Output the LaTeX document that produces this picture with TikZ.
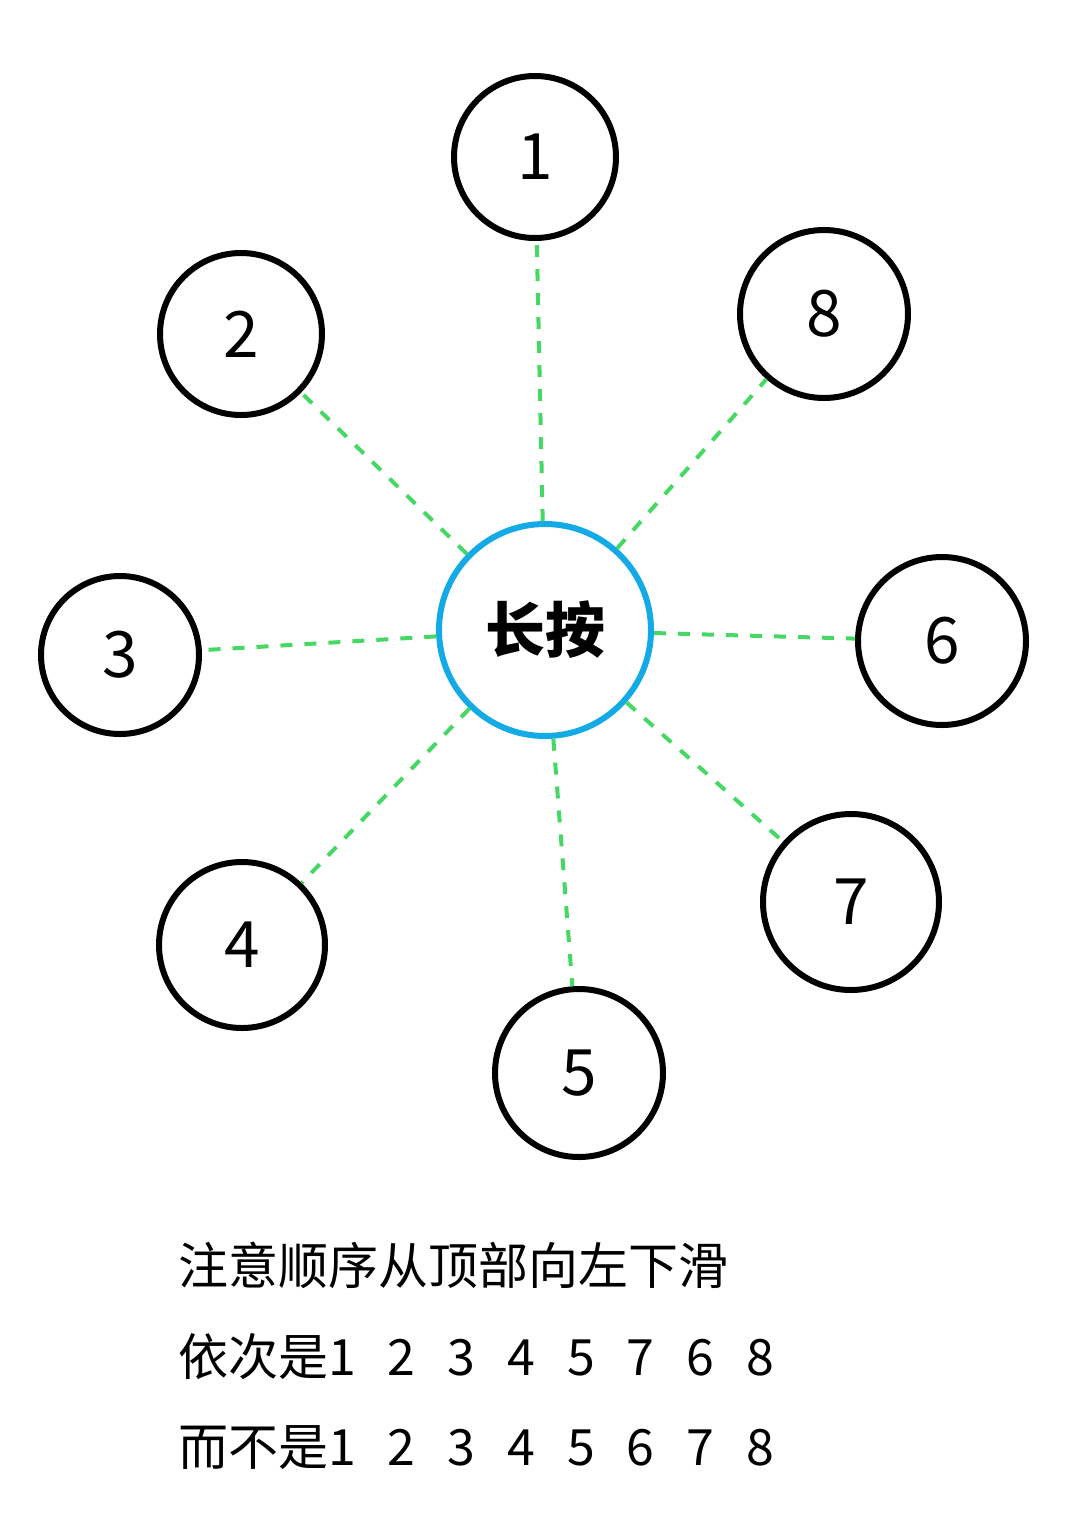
\documentclass[tikz,border=0pt]{standalone}
\usepackage{fontspec}
\newfontfamily\cjk{Noto Sans CJK SC}
\begin{document}
\begin{tikzpicture}[x=1pt,y=-1pt,
  num/.style={circle,draw=black,line width=6pt,inner sep=0pt,font=\cjk\fontsize{64}{70}\selectfont},
  link/.style={draw={rgb,255:red,70;green,215;blue,100},line width=4pt,dash pattern=on 12pt off 12pt},
  txt/.style={anchor=west,inner sep=0pt,font=\cjk\fontsize{50}{56}\selectfont}]
\useasboundingbox (0,0) rectangle (1080,1532);
\node[num,minimum size=162pt] (n1) at (535,157) {1};
\node[num,minimum size=168pt] (n8) at (824,314) {8};
\node[num,minimum size=162pt] (n2) at (241,334) {2};
\node[num,minimum size=158pt] (n3) at (120,655) {3};
\node[num,minimum size=168pt] (n6) at (942,641) {6};
\node[num,minimum size=176pt] (n7) at (851,902) {7};
\node[num,minimum size=166pt] (n4) at (242,945) {4};
\node[num,minimum size=168pt] (n5) at (579,1073) {5};
\node[circle,draw={rgb,255:red,20;green,170;blue,230},line width=6pt,minimum size=212pt,inner sep=0pt,font=\cjk\bfseries\fontsize{60}{66}\selectfont] (c) at (545,630) {长按};
\foreach \n in {n1,n2,n3,n4,n5,n6,n7,n8} \draw[link] (c) -- (\n);
\node[txt] (t1) at (178,1265) {注意顺序从顶部向左下滑};
\node[txt] (t2) at (178,1357) {依次是1\hspace{0.64em}2\hspace{0.64em}3\hspace{0.64em}4\hspace{0.64em}5\hspace{0.64em}7\hspace{0.64em}6\hspace{0.64em}8};
\node[txt] (t3) at (178,1448) {而不是1\hspace{0.64em}2\hspace{0.64em}3\hspace{0.64em}4\hspace{0.64em}5\hspace{0.64em}6\hspace{0.64em}7\hspace{0.64em}8};
\end{tikzpicture}
\end{document}
